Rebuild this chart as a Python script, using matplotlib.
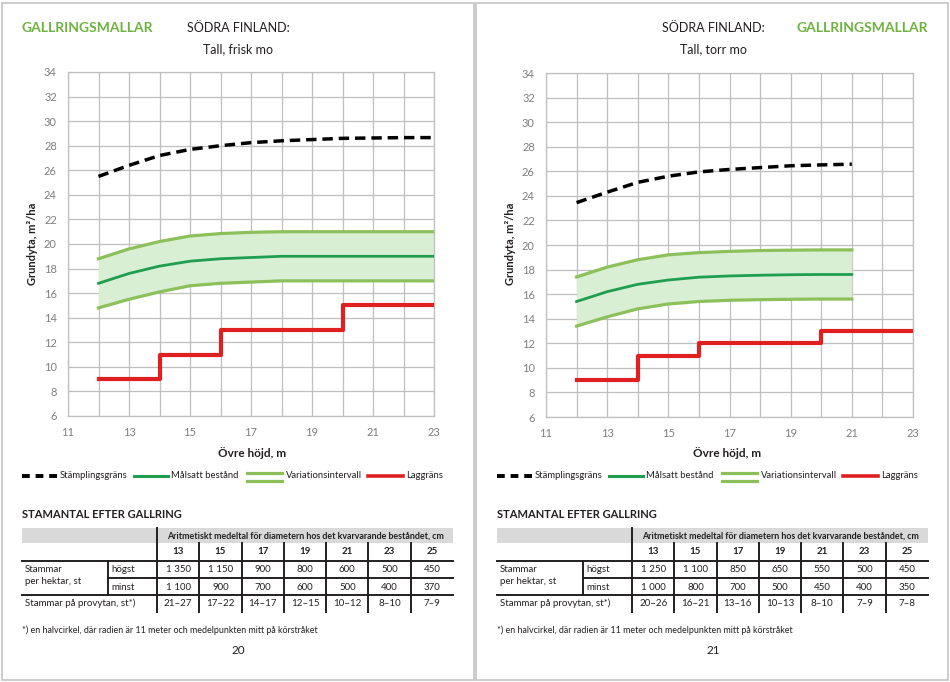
import numpy as np
import matplotlib
matplotlib.use("Agg")
import matplotlib.pyplot as plt
from matplotlib.patches import Rectangle

plt.rcParams['font.family'] = ['Lato', 'DejaVu Sans']

# --- data: vänster sida (Tall, frisk mo) ---
hojd_v = [12, 13, 14, 15, 16, 17, 18, 19, 20, 21, 22, 23]
stampling_v = [25.5, 26.4, 27.2, 27.7, 28.0, 28.25, 28.4, 28.5, 28.6, 28.63, 28.66, 28.66]
malsatt_v = [16.8, 17.6, 18.2, 18.6, 18.8, 18.9, 19.0, 19.0, 19.0, 19.0, 19.0, 19.0]
ovre_v = [18.8, 19.6, 20.2, 20.65, 20.85, 20.95, 21.0, 21.0, 21.0, 21.0, 21.0, 21.0]
undre_v = [14.8, 15.5, 16.1, 16.6, 16.8, 16.9, 17.0, 17.0, 17.0, 17.0, 17.0, 17.0]
lag_x_v = [12, 14, 16, 20, 23]
lag_y_v = [9, 11, 13, 15, 15]

# --- data: höger sida (Tall, torr mo) ---
hojd_h = [12, 13, 14, 15, 16, 17, 18, 19, 20, 21]
stampling_h = [23.45, 24.3, 25.1, 25.6, 25.95, 26.15, 26.3, 26.45, 26.52, 26.58]
malsatt_h = [15.4, 16.2, 16.8, 17.15, 17.38, 17.48, 17.54, 17.58, 17.6, 17.6]
ovre_h = [17.4, 18.2, 18.8, 19.2, 19.38, 19.48, 19.55, 19.58, 19.6, 19.6]
undre_h = [13.4, 14.15, 14.8, 15.2, 15.4, 15.5, 15.55, 15.58, 15.6, 15.6]
lag_x_h = [12, 14, 16, 20, 23]
lag_y_h = [9, 11, 12, 13, 13]

# --- tabeller ---
diametrar = [13, 15, 17, 19, 21, 23, 25]
hogst_v = [1350, 1150, 900, 800, 600, 500, 450]
minst_v = [1100, 900, 700, 600, 500, 400, 370]
provyta_v = ['21–27', '17–22', '14–17', '12–15', '10–12', '8–10', '7–9']
hogst_h = [1250, 1100, 850, 650, 550, 500, 450]
minst_h = [1000, 800, 700, 500, 450, 400, 350]
provyta_h = ['20–26', '16–21', '13–16', '10–13', '8–10', '7–9', '7–8']

W, H = 950, 682
GRON_RUB = '#6db33f'
MORK = '#231f20'
GRID = '#bfbfbf'
C_MAL = '#1f9e4f'
C_VAR = '#8cc05a'
C_FYLL = '#d9efd3'
C_LAG = '#e02020'

fig = plt.figure(figsize=(W / 100, H / 100), dpi=100)


def ruta(l, t, r, b):
    return [l / W, 1 - b / H, (r - l) / W, (b - t) / H]


bg = fig.add_axes([0, 0, 1, 1])
bg.set_xlim(0, W)
bg.set_ylim(H, 0)
bg.axis('off')

# sidramar
bg.add_patch(Rectangle((1.5, 2.5), 472.5, 677, fill=False, ec='#c8c8c8', lw=1.3))
bg.add_patch(Rectangle((476, 2.5), 472, 677, fill=False, ec='#c8c8c8', lw=1.3))


def diagram(rect, hojd, stampl, mal, ovre, undre, lx, ly):
    ax = fig.add_axes(rect)
    ax.fill_between(hojd, undre, ovre, color=C_FYLL, lw=0, zorder=2)
    ax.plot(hojd, ovre, color=C_VAR, lw=2.3, zorder=3)
    ax.plot(hojd, undre, color=C_VAR, lw=2.3, zorder=3)
    ax.plot(hojd, mal, color=C_MAL, lw=2.0, zorder=4)
    ax.plot(hojd, stampl, color='black', lw=2.5, dashes=(3, 1.7), zorder=5)
    ax.step(lx, ly, where='post', color=C_LAG, lw=3, zorder=5)
    ax.set_xlim(11, 23)
    ax.set_ylim(6, 34)
    ax.set_xticks(range(11, 24, 2))
    ax.set_xticks(range(11, 24), minor=True)
    ax.set_yticks(range(6, 35, 2))
    ax.grid(which='both', color=GRID, lw=0.9, zorder=0)
    ax.set_axisbelow(True)
    ax.tick_params(which='both', length=0, colors='#7f7f7f', labelsize=8)
    ax.tick_params(axis='y', pad=8)
    ax.tick_params(axis='x', pad=8)
    for s in ax.spines.values():
        s.set_color(GRID)
        s.set_linewidth(0.9)
    return ax


diagram(ruta(68, 72, 434, 416), hojd_v, stampling_v, malsatt_v, ovre_v, undre_v, lag_x_v, lag_y_v)
diagram(ruta(546, 73, 913, 417), hojd_h, stampling_h, malsatt_h, ovre_h, undre_h, lag_x_h, lag_y_h)


def sida(dx, cx, ylab_x, undertitel, rubrik_x, rubrik_ha, sidnr, hogst, minst, provyta):
    # rubriker
    bg.text(rubrik_x, 28, 'GALLRINGSMALLAR', color=GRON_RUB, fontsize=10, fontweight='bold',
            ha=rubrik_ha, va='center')
    bg.text(cx, 28, 'SÖDRA FINLAND:', color=MORK, fontsize=9, ha='center', va='center')
    bg.text(cx, 49, undertitel, color=MORK, fontsize=9, ha='center', va='center')
    # axeltitlar
    bg.text(cx + 14, 453, 'Övre höjd, m', color=MORK, fontsize=8.5, fontweight='bold',
            ha='center', va='center')
    bg.text(ylab_x, 244, 'Grundyta, m²/ha', color=MORK, fontsize=8, fontweight='bold',
            ha='center', va='center', rotation=90)

    # legend
    ly = 476
    fs = 6.8
    bg.plot([dx + 22, dx + 57], [ly, ly], color='black', lw=2.8, dashes=(2.0, 1.5))
    bg.text(dx + 60, ly, 'Stämplingsgräns', fontsize=fs, color=MORK, va='center')
    bg.plot([dx + 134, dx + 168], [ly, ly], color=C_MAL, lw=2.2)
    bg.text(dx + 171, ly, 'Målsatt bestånd', fontsize=fs, color=MORK, va='center')
    bg.plot([dx + 247, dx + 282], [ly - 3.5, ly - 3.5], color=C_VAR, lw=2.3)
    bg.plot([dx + 247, dx + 282], [ly + 4.5, ly + 4.5], color=C_VAR, lw=2.3)
    bg.text(dx + 286, ly, 'Variationsintervall', fontsize=fs, color=MORK, va='center')
    bg.plot([dx + 368, dx + 403], [ly, ly], color=C_LAG, lw=2.6)
    bg.text(dx + 406, ly, 'Laggräns', fontsize=fs, color=MORK, va='center')

    # tabell
    bg.text(dx + 22, 515, 'STAMANTAL EFTER GALLRING', fontsize=8, fontweight='bold',
            color=MORK, va='center')
    L, R = dx + 22, dx + 453
    kol = np.linspace(dx + 157, R, len(diametrar) + 1)
    bg.add_patch(Rectangle((L, 528), R - L, 15, color='#d9d9d9', lw=0))
    bg.text((kol[0] + R) / 2, 536, 'Aritmetiskt medeltal för diametern hos det kvarvarande beståndet, cm',
            fontsize=6.4, fontweight='bold', color=MORK, ha='center', va='center')
    lw_t = 1.4
    bg.plot([L, R], [561, 561], color=MORK, lw=lw_t)
    bg.plot([dx + 108, R], [578, 578], color=MORK, lw=lw_t)
    bg.plot([L, R], [595, 595], color=MORK, lw=lw_t)
    bg.plot([kol[0], kol[0]], [528, 612], color=MORK, lw=lw_t)
    for x in kol[1:-1]:
        bg.plot([x, x], [543, 612], color=MORK, lw=lw_t)
    bg.plot([dx + 108, dx + 108], [561, 595], color=MORK, lw=lw_t)
    mitt = (kol[:-1] + kol[1:]) / 2
    for i, d in enumerate(diametrar):
        bg.text(mitt[i], 552, str(d), fontsize=7, fontweight='bold', color=MORK,
                ha='center', va='center')
        bg.text(mitt[i], 570, f'{hogst[i]:,}'.replace(',', ' '), fontsize=7, color=MORK,
                ha='center', va='center')
        bg.text(mitt[i], 587, f'{minst[i]:,}'.replace(',', ' '), fontsize=7, color=MORK,
                ha='center', va='center')
        bg.text(mitt[i], 604, provyta[i], fontsize=7, color=MORK, ha='center', va='center')
    bg.text(dx + 25, 569, 'Stammar', fontsize=7, color=MORK, va='center')
    bg.text(dx + 25, 581, 'per hektar, st', fontsize=7, color=MORK, va='center')
    bg.text(dx + 111, 570, 'högst', fontsize=7, color=MORK, va='center')
    bg.text(dx + 111, 587, 'minst', fontsize=7, color=MORK, va='center')
    bg.text(dx + 25, 603, 'Stammar på provytan, st*)', fontsize=7, color=MORK, va='center')

    bg.text(dx + 22, 630, '*) en halvcirkel, där radien är 11 meter och medelpunkten mitt på körstråket',
            fontsize=6.4, color=MORK, va='center')
    bg.text(cx, 650, sidnr, fontsize=8.5, color=MORK, ha='center', va='center')


sida(0, 238, 33, 'Tall, frisk mo', 22, 'left', '20', hogst_v, minst_v, provyta_v)
sida(475, 713, 510, 'Tall, torr mo', 928, 'right', '21', hogst_h, minst_h, provyta_h)

fig.savefig('out.png', dpi=100, facecolor='white')
